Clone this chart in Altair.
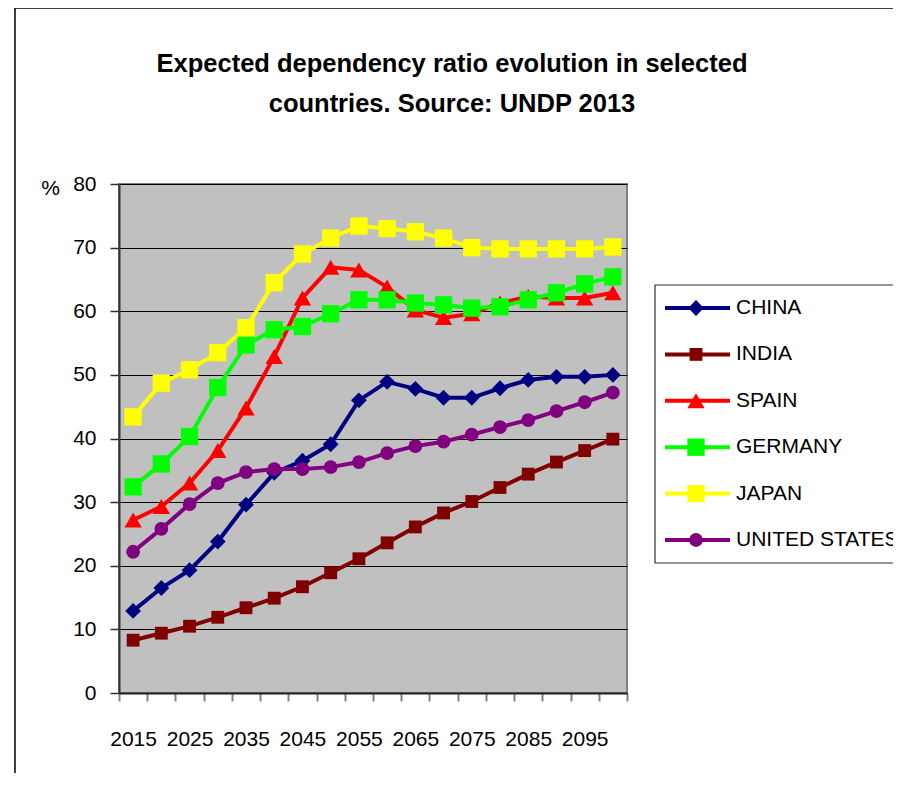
import altair as alt
import pandas as pd

years = [2015, 2020, 2025, 2030, 2035, 2040, 2045, 2050, 2055,
         2060, 2065, 2070, 2075, 2080, 2085, 2090, 2095, 2100]

countries = ["CHINA", "INDIA", "SPAIN", "GERMANY", "JAPAN", "UNITED STATES"]

china = [12.9, 16.5, 19.3, 23.8, 29.6, 34.6, 36.5, 39.1, 46.0,
         48.9, 47.8, 46.4, 46.4, 47.9, 49.2, 49.7, 49.7, 50.0]
india = [8.3, 9.4, 10.5, 11.9, 13.4, 14.9, 16.7, 18.9, 21.1,
         23.6, 26.1, 28.3, 30.1, 32.3, 34.4, 36.3, 38.1, 39.9]
spain = [27.2, 29.3, 33.0, 38.1, 44.8, 52.9, 62.1, 66.9, 66.5,
         63.8, 60.2, 59.0, 59.6, 61.3, 62.3, 62.1, 62.1, 62.9]
germany = [32.4, 36.0, 40.3, 48.0, 54.7, 57.1, 57.6, 59.6, 61.8,
           61.8, 61.3, 61.0, 60.5, 60.7, 61.8, 62.9, 64.3, 65.4]
japan = [43.4, 48.7, 50.8, 53.5, 57.4, 64.5, 69.0, 71.5, 73.4,
         73.0, 72.5, 71.5, 70.0, 69.8, 69.8, 69.8, 69.8, 70.1]
united_states = [22.2, 25.8, 29.7, 33.0, 34.7, 35.2, 35.2, 35.5, 36.3,
                 37.7, 38.8, 39.5, 40.6, 41.8, 42.9, 44.3, 45.7, 47.2]

series = [china, india, spain, germany, japan, united_states]

title_lines = ["Expected dependency ratio evolution in selected",
               "countries. Source: UNDP 2013"]

colors = ["#000080", "#800000", "#FF0000", "#00FF00", "#FFFF00", "#800080"]
shapes = ["diamond", "square", "triangle-up", "square", "square", "circle"]
sizes = [250, 165, 300, 300, 300, 190]

rows = []
for c, vals in zip(countries, series):
    for yr, v in zip(years, vals):
        rows.append({"country": c, "year": yr, "value": v})
df = pd.DataFrame(rows)

FONT = "Liberation Sans, Arial, sans-serif"
FS = 21

color_enc = alt.Color("country:N", scale=alt.Scale(domain=countries, range=colors), legend=None)
shape_enc = alt.Shape("country:N", scale=alt.Scale(domain=countries, range=shapes), legend=None)
size_enc = alt.Size("country:N", scale=alt.Scale(type="ordinal", domain=countries, range=sizes), legend=None)

x_enc = alt.X(
    "year:O",
    scale=alt.Scale(type="band", paddingInner=0, paddingOuter=0),
    axis=alt.Axis(
        title=None, tickBand="extent", labelAngle=0,
        labelExpr="(datum.value - 2015) % 10 == 0 ? datum.label : ''",
        tickSize=8, tickColor="#808080", tickWidth=2,
        domainColor="#222222", domainWidth=2,
        labelFont=FONT, labelFontSize=FS, labelColor="black",
        labelPadding=44, labelBaseline="alphabetic", labelOverlap=False,
        grid=False,
    ),
)
y_enc = alt.Y(
    "value:Q",
    scale=alt.Scale(domain=[0, 80], nice=False),
    axis=alt.Axis(
        values=[0, 10, 20, 30, 40, 50, 60, 70, 80],
        grid=True, gridColor="black", gridWidth=1,
        tickSize=9, tickColor="#333333", tickWidth=1.5,
        domainColor="#333333", domainWidth=2,
        labelFont=FONT, labelFontSize=FS, labelColor="black", labelPadding=14,
        title="%", titleAngle=0, titleX=-69, titleY=4, titleAlign="center",
        titleBaseline="middle", titleFont=FONT, titleFontSize=FS,
        titleFontWeight="normal", titleColor="black",
    ),
)

base = alt.Chart(df)
layers = []
for c in countries:
    sub = base.transform_filter(alt.datum.country == c)
    layers.append(sub.mark_line(strokeWidth=4).encode(x=x_enc, y=y_enc, color=color_enc))
    layers.append(sub.mark_point(filled=True, opacity=1).encode(
        x=x_enc, y=y_enc, color=color_enc, shape=shape_enc, size=size_enc))
main = alt.layer(*layers)

one = pd.DataFrame({"a": [0]})
frame = alt.Chart(one).mark_rect(fill="transparent", stroke="black", strokeWidth=1.5).encode(
    x=alt.value(-104), x2=alt.value(2000), y=alt.value(-176), y2=alt.value(2000))

title = alt.Chart(one).mark_text(
    text=title_lines, font=FONT, fontSize=25.5, fontWeight="bold", color="black",
    align="center", baseline="alphabetic", lineHeight=40).encode(
    x=alt.value(333), y=alt.value(-112))

leg_df = pd.DataFrame({"country": countries})
leg_y = alt.Y("country:N", sort=countries,
              scale=alt.Scale(type="point", domain=countries, range=[124, 356], padding=0),
              axis=None)
leg_box = alt.Chart(one).mark_rect(fill="white", stroke="#333333", strokeWidth=1.2).encode(
    x=alt.value(536), x2=alt.value(900), y=alt.value(101), y2=alt.value(379))
leg_rule = alt.Chart(leg_df).mark_rule(strokeWidth=4).encode(
    x=alt.value(546), x2=alt.value(611), y=leg_y, color=color_enc)
leg_pt = alt.Chart(leg_df).mark_point(filled=True, opacity=1).encode(
    x=alt.value(577), y=leg_y, color=color_enc, shape=shape_enc, size=size_enc)
leg_txt = alt.Chart(leg_df).mark_text(
    align="left", baseline="middle", font=FONT, fontSize=FS, color="black").encode(
    x=alt.value(617), y=leg_y, text="country:N")
legend = alt.layer(leg_box, leg_rule, leg_pt, leg_txt)

chart = alt.layer(frame, title, main, legend).resolve_scale(y="independent").properties(
    width=508, height=509,
    autosize=alt.AutoSizeParams(type="none"),
    padding={"left": 111, "top": 176, "right": 266, "bottom": 80},
    background="white",
).configure_view(fill="#C0C0C0", stroke="#808080", strokeWidth=2)

chart.save("out.html", embed_options={"renderer": "svg", "actions": False})
